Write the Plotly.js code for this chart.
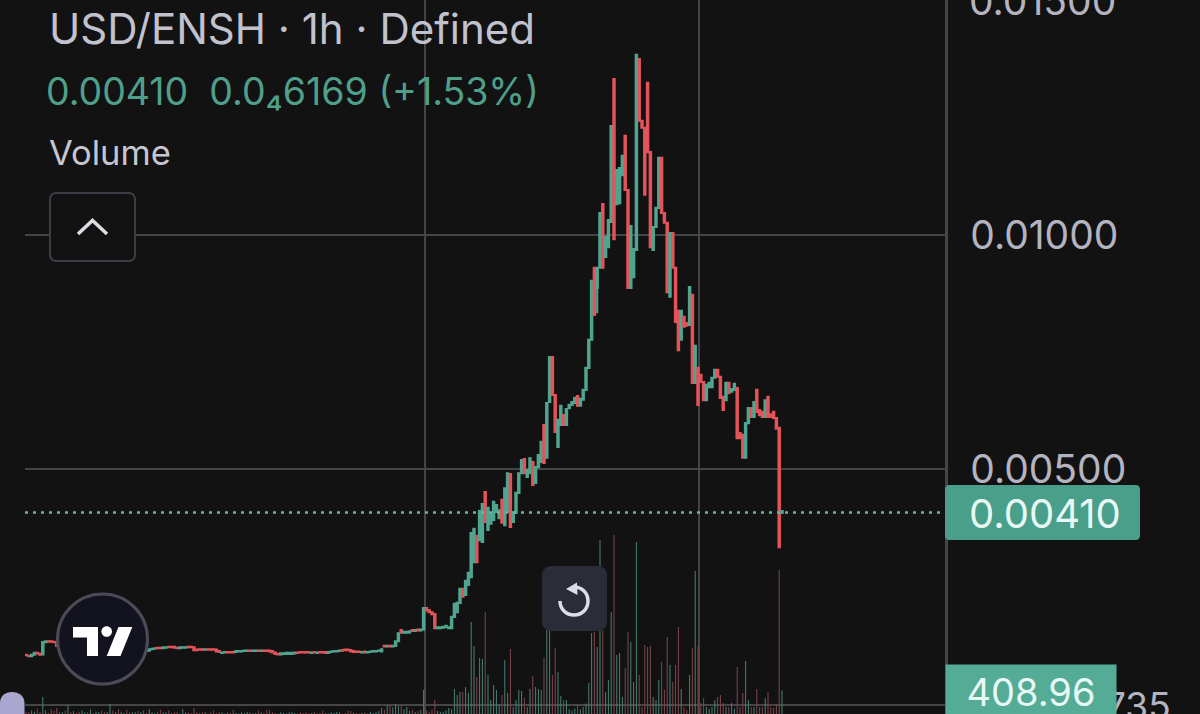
<!DOCTYPE html>
<html>
<head>
<meta charset="utf-8">
<script src="https://cdn.plot.ly/plotly-3.0.1.min.js"></script>
<style>html,body{margin:0;padding:0;background:#121212;overflow:hidden}#chart{width:1200px;height:714px}</style>
</head>
<body>
<div id="chart"></div>
<script>
// Prices in units of 0.00001 USD (candles behind the round logo are estimates)
const candleOpen = [
103,101,100,103,107,105,104,130,132,132,
131,130,122,120,121,119,120,118,119,118,
117,118,119,117,118,116,117,118,116,115,
116,117,115,116,114,115,116,114,113,114,
115,113,114,113,112,115,116,118,118,117,
118,120,120,120,118,117,118,118,120,120,
119,114,115,115,114,115,115,115,114,111,
107,108,109,109,109,109,110,110,111,111,
112,111,111,112,111,112,112,112,111,108,
105,104,105,105,105,105,106,108,109,109,
109,109,107,109,107,109,109,109,107,109,
110,110,111,113,114,114,113,111,110,110,
108,110,108,109,110,110,111,110,122,121,
122,121,122,132,156,150,150,151,156,154,
157,155,157,203,198,194,190,160,160,161,
162,160,160,184,194,214,244,231,252,269,
301,357,348,344,451,370,383,391,408,395,
434,380,408,489,387,406,449,491,521,483,
491,515,470,504,515,594,524,643,739,658,
547,594,615,594,630,637,641,656,635,648,
669,716,776,930,887,930,1066,953,974,1028,
1333,1066,1068,1128,1212,1096,887,910,968,1376,
1244,1229,1325,1177,968,1017,1058,1165,1047,1026,
868,1004,930,838,776,825,812,808,872,684,
716,701,686,647,675,675,695,712,697,654,
647,684,665,669,673,577,573,524,598,630,
611,669,626,622,611,654,617,622,609,588,406];
const candleClose = [
102,100,103,107,106,103,130,132,131,131,
130,122,120,121,119,120,118,119,118,117,
118,119,117,118,116,117,118,116,115,116,
117,115,116,114,115,116,114,113,114,115,
113,114,113,112,115,116,117,117,117,119,
119,119,119,118,117,119,119,119,119,119,
113,113,114,114,115,114,114,114,110,109,
108,109,108,108,108,111,111,111,112,112,
111,112,112,111,112,111,111,110,108,105,
104,106,106,107,107,107,108,107,108,108,
108,108,108,108,108,108,108,107,109,110,
111,111,112,112,113,113,110,109,109,109,
109,108,109,110,111,111,112,115,121,122,
121,122,132,149,150,152,152,153,154,156,
155,157,203,198,194,190,160,162,162,163,
165,162,184,212,214,244,227,261,278,363,
372,301,410,425,387,417,404,430,423,412,
385,459,491,376,408,449,491,519,491,498,
523,466,504,530,558,513,641,739,658,579,
605,635,594,628,637,643,652,635,650,669,
716,776,902,829,930,1047,930,996,1032,1233,
991,1139,1143,1169,1096,887,1019,970,1385,1244,
1229,1086,1177,974,1017,1058,1165,1047,1026,878,
1004,930,814,754,838,804,806,889,684,763,
637,686,647,680,684,695,712,697,652,626,
684,662,671,682,566,566,524,598,630,611,
643,622,615,611,647,611,611,609,586,333,410];
// The few candles whose stroke reaches past the body
const lowWicks = {204:833, 270:404};
const highWicks = {270:412};
const volumes = [
70,60,90,70,120,60,304,90,50,110,
80,130,70,60,90,176,60,80,50,70,
90,60,60,110,50,70,60,90,70,60,
192,90,60,110,70,50,100,60,60,70,
80,60,90,50,110,60,50,70,100,60,
60,90,50,60,70,40,110,60,60,50,
130,60,50,70,60,40,60,90,50,60,
60,40,70,50,100,50,40,60,50,70,
60,40,50,90,60,50,100,90,60,50,
40,60,50,40,60,70,50,40,60,50,
60,40,50,70,40,50,90,50,40,60,
50,70,60,40,50,90,80,60,50,40,
50,60,40,70,50,60,80,128,100,176,
176,140,192,160,176,110,144,80,100,60,
80,100,416,90,70,110,256,80,60,70,
90,128,110,432,336,384,384,464,368,1504,
1120,624,928,912,1664,656,256,496,416,180,
336,896,368,1072,144,256,416,400,288,144,
432,640,464,432,416,928,1376,1376,656,1088,
704,320,256,256,110,90,120,176,110,150,
200,528,1328,1344,1104,2816,1376,384,576,1664,
2896,976,1008,304,768,1344,1184,544,2784,656,
144,1136,1104,1120,304,256,576,864,420,1264,
816,544,816,1424,432,144,100,656,1088,2320,
1120,208,288,144,120,144,256,304,336,208,
144,144,208,120,784,144,368,880,256,144,
144,432,144,144,288,384,144,128,176,2336,408.96];
const priceTicks = [0.005, 0.01, 0.015];
const priceTickLabels = ["0.00500", "0.01000", "0.01500"];
const lastPrice = 0.00407;
const lastPriceLabel = "0.00410";
const volumeLabel = "408.96";
const titleText = "USD/ENSH · 1h · Defined";
const quoteText = "0.00410  0.0₄6169 (+1.53%)";
const timeGrid = [142.5, 240.4];
const volumeGrid = [176];

const W = 1200, H = 714;
const UP = "#4fa58f", DOWN = "#e4535a", BG = "#121212", GRID = "#454547";
const UP_V = "#4a8276", DOWN_V = "#7f474d";
const idx = candleOpen.map((_, i) => i);
const scale = v => v / 1e5;
const opens = candleOpen.map(scale), closes = candleClose.map(scale);
const highs = idx.map(i => scale(highWicks[i] || Math.max(candleOpen[i], candleClose[i])));
const lows = idx.map(i => scale(lowWicks[i] || Math.min(candleOpen[i], candleClose[i])));
const volColors = idx.map(i => candleClose[i] >= candleOpen[i] ? UP_V : DOWN_V);

// Axis ranges
const xMin = -1 / 2.8, xMax = xMin + 920 / 2.8;
const pxX = x => x / W, pxY = y => 1 - y / H;
const path = s => s.replace(/(-?[\d.]+),(-?[\d.]+)/g, (_, x, y) => pxX(+x).toFixed(5) + "," + pxY(+y).toFixed(5));
const pshape = (d, o) => Object.assign({type:"path", xref:"paper", yref:"paper", path:path(d), layer:"above"}, o);
function rrect(x0,y0,x1,y1,r){
  const k=r*0.45;
  return `M${x0+r},${y0} L${x1-r},${y0} C${x1-k},${y0} ${x1},${y0+k} ${x1},${y0+r} L${x1},${y1-r} C${x1},${y1-k} ${x1-k},${y1} ${x1-r},${y1} L${x0+r},${y1} C${x0+k},${y1} ${x0},${y1-k} ${x0},${y1-r} L${x0},${y0+r} C${x0},${y0+k} ${x0+k},${y0} ${x0+r},${y0} Z`;
}
function circle(cx,cy,r){
  const k=r*0.5523;
  return `M${cx},${cy-r} C${cx+k},${cy-r} ${cx+r},${cy-k} ${cx+r},${cy} C${cx+r},${cy+k} ${cx+k},${cy+r} ${cx},${cy+r} C${cx-k},${cy+r} ${cx-r},${cy+k} ${cx-r},${cy} C${cx-r},${cy-k} ${cx-k},${cy-r} ${cx},${cy-r} Z`;
}
const NOLINE = {width:0};
const shapes = [
  // price label box
  pshape(rrect(945,485,1140,540,4), {fillcolor:"#4a9f8b", line:NOLINE}),
  // collapse button
  pshape(rrect(50,193,135,261,6), {fillcolor:BG, line:{color:"#3b3d47",width:2}}),
  pshape("M78,234 L92.5,220.5 L107,234", {line:{color:"#dcdce2",width:3.5}}),
  // reset button
  pshape(rrect(542,566,607,631,9), {fillcolor:"#2a2c37", line:NOLINE}),
  pshape("M574,587 C582,587 588,593 588,601 C588,609 582,615 574,615 C566,615 560,609 560,601", {line:{color:"#dcdde5",width:3.5}}),
  pshape("M577,582.5 L566,589 L577.5,595 Z", {fillcolor:"#dcdde5", line:NOLINE}),
  // TradingView badge
  pshape(circle(102.5,639,45), {fillcolor:"#12131f", line:{color:"#4b4b57",width:3}}),
  pshape("M73,627 L98,627 L98,656 L87,656 L87,637.5 L73,637.5 Z", {fillcolor:"#ffffff", line:NOLINE}),
  pshape(circle(106.7,631.5,5.3), {fillcolor:"#ffffff", line:NOLINE}),
  pshape("M118.5,627 L132.3,627 L120.5,656 L106.7,656 Z", {fillcolor:"#ffffff", line:NOLINE}),
  // scrollbar thumb at the lower left
  pshape("M0,714 L0,703 C0,696 5,692 12,692 C19,692 24.5,696 24.5,703 L24.5,714 Z", {fillcolor:"#a9a7cf", line:NOLINE})
];
const FONT = "Inter, 'Noto Sans', sans-serif";
const note = (text, x, y, size, color, extra) => Object.assign({
  text, xref:"paper", yref:"paper", x:pxX(x), y:pxY(y), xanchor:"left", yanchor:"middle",
  showarrow:false, font:{family:FONT, size, color}
}, extra || {});
const annotations = [
  note(titleText, 47, 29, 42, "#c2c2ce"),
  note(quoteText, 44, 91, 37.5, "#4f9f8b"),
  note("Volume", 47, 152, 34.5, "#c6c6d0"),
  note(priceTickLabels[2], 967, 0, 39, "#b4b4c0"),
  note(lastPriceLabel, 967, 513, 40, "#e8f8f3"),
  note("735", 1173, 705, 37, "#b4b4c0", {xanchor:"right"}),
  note(volumeLabel, 945, 664, 38, "#e8f8f3", {yanchor:"top", width:170, height:54, bgcolor:"#54ab96", align:"center", borderpad:0})
];

const traces = [
  {type:"bar", x:idx, y:volumes, width:0.36, yaxis:"y", xaxis:"x", marker:{color:volColors, line:{width:0}}, hoverinfo:"skip", showlegend:false},
  {type:"scatter", mode:"lines", x:[xMin,xMax], y:[lastPrice,lastPrice], yaxis:"y2", xaxis:"x", line:{color:"#67b5a4", width:2.5, dash:"3px,5px"}, hoverinfo:"skip", showlegend:false},
  {type:"candlestick", x:idx, open:opens, high:highs, low:lows, close:closes, yaxis:"y2", xaxis:"x", width:0.55,
   increasing:{line:{color:UP,width:2.1}, fillcolor:UP},
   decreasing:{line:{color:DOWN,width:2.1}, fillcolor:DOWN}, hoverinfo:"skip", showlegend:false}
];
const layout = {
  width:W, height:H, margin:{l:0,r:0,t:0,b:0}, paper_bgcolor:BG, plot_bgcolor:BG, showlegend:false, hovermode:false,
  font:{family:FONT},
  xaxis:{domain:[25/W,945/W], range:[xMin,xMax], type:"linear", tickmode:"array", tickvals:timeGrid, showticklabels:false, ticks:"",
    showgrid:true, gridcolor:GRID, gridwidth:2.5, zeroline:false, showline:false, rangeslider:{visible:false}, fixedrange:true},
  yaxis:{domain:[0,1], range:[32,11456], tickmode:"array", tickvals:volumeGrid, showticklabels:false, ticks:"",
    showgrid:true, gridcolor:GRID, gridwidth:2.5, zeroline:false, showline:false, fixedrange:true},
  yaxis2:{domain:[0,1], range:[-0.000235,0.015021], overlaying:"y", anchor:"x", side:"right", tickmode:"array", tickvals:priceTicks, ticktext:priceTickLabels,
    tickfont:{family:FONT,size:39,color:"#b4b4c0"}, ticks:"", ticklabelstandoff:15, showgrid:true, gridcolor:GRID, gridwidth:2.5, zeroline:false,
    showline:true, linecolor:GRID, linewidth:2.5, fixedrange:true, automargin:false},
  shapes, annotations
};
Plotly.newPlot("chart", traces, layout, {displayModeBar:false, staticPlot:true});
</script>
</body>
</html>
